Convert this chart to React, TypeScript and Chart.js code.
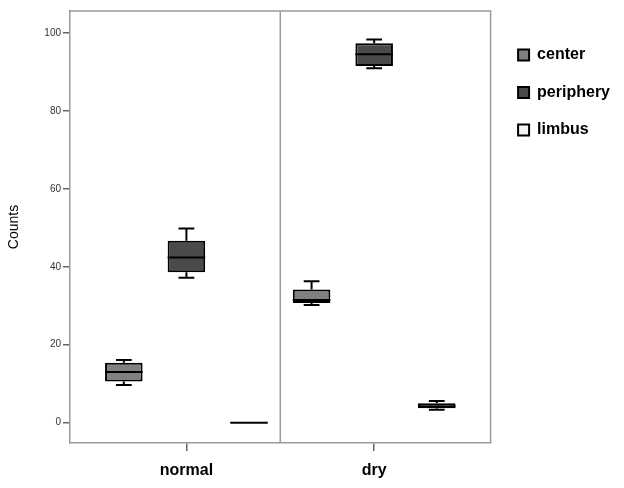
import { useEffect, useRef } from 'react';
import { Chart, registerables } from 'chart.js';

Chart.register(...registerables);

const groups = ['normal', 'dry'];
const seriesNames = ['center', 'periphery', 'limbus'];
// per group: [min, q1, median, q3, max]
const centerStats = [
  [9.7, 10.6, 13.0, 15.4, 16.1],
  [30.2, 30.7, 31.5, 34.2, 36.3],
];
const peripheryStats = [
  [37.2, 38.6, 42.4, 46.7, 49.8],
  [90.9, 91.5, 94.5, 97.3, 98.3],
];
const limbusStats = [
  [0, 0, 0, 0, 0],
  [3.3, 3.7, 4.2, 5.0, 5.6],
];
const yTicks = [0, 20, 40, 60, 80, 100];
const seriesColors = ['#808080', '#4a4a4a', '#f4f4f4'];

const allStats = [centerStats, peripheryStats, limbusStats];

const FRAME = '#9a9a9a';

const boxPlugin = {
  id: 'boxWhiskers',
  afterLayout(chart: any) {
    const lg = chart.legend;
    if (lg) {
      lg.left += 6;
      lg.right += 6;
    }
  },
  beforeDatasetsDraw(chart: any) {
    const { ctx, chartArea } = chart;
    ctx.save();
    ctx.strokeStyle = FRAME;
    ctx.lineWidth = 1.5;
    ctx.beginPath();
    ctx.moveTo(chartArea.left, chartArea.top);
    ctx.lineTo(chartArea.right, chartArea.top);
    ctx.lineTo(chartArea.right, chartArea.bottom);
    const xd = (chartArea.left + chartArea.right) / 2;
    ctx.moveTo(xd, chartArea.top);
    ctx.lineTo(xd, chartArea.bottom);
    ctx.stroke();
    ctx.restore();
  },
  afterDatasetsDraw(chart: any) {
    const { ctx, scales } = chart;
    const ys = scales.y;
    ctx.save();
    ctx.strokeStyle = '#000';
    ctx.lineWidth = 2;
    chart.data.datasets.forEach((ds: any, d: number) => {
      const meta = chart.getDatasetMeta(d);
      meta.data.forEach((bar: any, i: number) => {
        const s = ds.data[i].stats;
        const { x, width } = bar.getProps(['x', 'width'], true);
        const half = width / 2;
        const cap = width * 0.21;
        const pMin = ys.getPixelForValue(s[0]);
        const pQ1 = ys.getPixelForValue(s[1]);
        const pMed = ys.getPixelForValue(s[2]);
        const pQ3 = ys.getPixelForValue(s[3]);
        const pMax = ys.getPixelForValue(s[4]);
        ctx.beginPath();
        if (pMin - pQ1 > 0.5) {
          ctx.moveTo(x, pQ1);
          ctx.lineTo(x, pMin);
          ctx.moveTo(x - cap, pMin);
          ctx.lineTo(x + cap, pMin);
        }
        if (pQ3 - pMax > 0.5) {
          ctx.moveTo(x, pQ3);
          ctx.lineTo(x, pMax);
          ctx.moveTo(x - cap, pMax);
          ctx.lineTo(x + cap, pMax);
        }
        ctx.moveTo(x - half, pMed);
        ctx.lineTo(x + half, pMed);
        ctx.stroke();
      });
    });
    ctx.restore();
  },
};

export default function App() {
  const ref = useRef<HTMLCanvasElement>(null);
  useEffect(() => {
    if (!ref.current) return;
    Chart.defaults.font.family = '"Liberation Sans", Arial, sans-serif';
    const chart = new Chart(ref.current, {
      type: 'bar',
      data: {
        datasets: seriesNames.map((name, d) => ({
          label: name,
          data: allStats[d].map((s, i) => ({ x: i, y: [s[1], s[3]], stats: s })) as any,
          backgroundColor: seriesColors[d],
          borderColor: '#000',
          borderWidth: 2,
          borderSkipped: false,
          categoryPercentage: 1.0,
          barPercentage: 0.6,
        })),
      },
      options: {
        responsive: false,
        animation: false,
        layout: { padding: { top: 11, left: 0, right: 10, bottom: 0 } },
        plugins: {
          tooltip: { enabled: false },
          legend: {
            position: 'right',
            align: 'start',
            title: { display: true, text: ' ', padding: 0, font: { size: 12 } },
            labels: {
              boxWidth: 11,
              boxHeight: 11,
              padding: 21.5,
              color: '#000',
              font: { size: 16, weight: 'bold' },
            },
          },
        },
        scales: {
          x: {
            type: 'linear',
            offset: false,
            min: -0.62,
            max: 1.62,
            afterBuildTicks: (scale: any) => {
              scale.ticks = groups.map((_, i) => ({ value: i }));
            },
            afterFit: (scale: any) => {
              scale.height = 45;
            },
            ticks: {
              autoSkip: false,
              maxRotation: 0,
              padding: 10,
              color: '#000',
              font: { size: 16, weight: 'bold' },
              callback: (v: any) => groups[v] ?? '',
            },
            grid: { offset: false, drawOnChartArea: false, tickLength: 8, color: '#666', lineWidth: 1.5 },
            border: { display: true, color: FRAME, width: 1.5 },
          },
          y: {
            min: -5.2,
            max: 105.6,
            afterBuildTicks: (scale: any) => {
              scale.ticks = yTicks.map((v) => ({ value: v }));
            },
            afterFit: (scale: any) => {
              scale.width = 70;
            },
            title: {
              display: true,
              text: 'Counts',
              color: '#000',
              font: { size: 14 },
              padding: { top: 6, bottom: 0 },
            },
            ticks: { color: '#333', font: { size: 10 }, padding: 2 },
            grid: { drawOnChartArea: false, tickLength: 7, color: '#666', lineWidth: 1.5 },
            border: { display: true, color: FRAME, width: 1.5 },
          },
        },
      },
      plugins: [boxPlugin],
    });
    return () => chart.destroy();
  }, []);
  return (
    <div style={{ position: 'fixed', left: 0, top: 0, width: 624, height: 488, background: '#fff' }}>
      <canvas ref={ref} width={624} height={488} />
    </div>
  );
}
